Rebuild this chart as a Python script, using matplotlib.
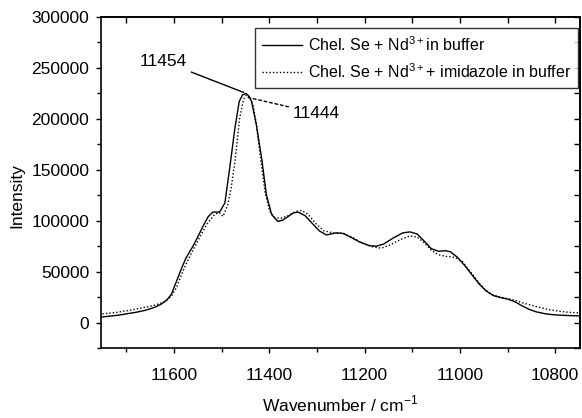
import matplotlib
matplotlib.use('Agg')
import matplotlib.pyplot as plt
from matplotlib.ticker import MultipleLocator

plt.rcParams['font.family'] = ['Liberation Sans', 'DejaVu Sans']
plt.rcParams['mathtext.fontset'] = 'custom'
plt.rcParams['mathtext.rm'] = 'Liberation Sans'
plt.rcParams['font.size'] = 12.5

# Solid curve: Chel. Se + Nd3+ in buffer
wn_buf = [11750, 11720, 11700, 11680, 11660, 11640, 11625, 11615, 11605, 11595,
          11585, 11575, 11560, 11550, 11539, 11528, 11518, 11504, 11493, 11483,
          11472, 11463, 11456, 11449, 11443, 11437, 11427, 11416, 11406, 11395,
          11382, 11372, 11360, 11350, 11340, 11325, 11310, 11295,
          11280, 11260, 11245, 11230, 11210, 11190, 11175, 11160, 11140, 11120,
          11105, 11090, 11075, 11060, 11045, 11030, 11020, 11005, 10990, 10975,
          10960, 10945, 10930, 10915, 10900, 10885, 10870, 10855, 10840, 10820,
          10800, 10780, 10750]
int_buf = [5500, 7000, 8500, 10000, 12000, 15000, 18500, 22000, 28000, 40000,
           52000, 63000, 75000, 84000, 94500, 104000, 108500, 108500, 117500, 151500,
           191000, 217000, 223500, 225000, 222500, 217000, 194000, 161500, 125500, 106000,
           99300, 100500, 104200, 107500, 108500, 105000, 97500, 90000,
           86000, 88000, 87500, 84000, 79000, 75500, 75000, 77000, 83000, 88000,
           89000, 87000, 80000, 72500, 70000, 70500, 69500, 64000, 56000, 47000,
           38000, 31000, 26500, 24500, 23000, 20500, 16500, 13000, 10500, 8500,
           7500, 7000, 6500]

# Dotted curve: Chel. Se + Nd3+ + imidazole in buffer
wn_imi = [11750, 11720, 11700, 11680, 11660, 11640, 11625, 11615, 11605, 11595,
          11585, 11575, 11560, 11545, 11530, 11515, 11505, 11497, 11487, 11480,
          11472, 11462, 11454, 11448, 11441, 11434, 11427, 11420, 11409, 11399,
          11388, 11375, 11360, 11345, 11332, 11318, 11300, 11285,
          11265, 11245, 11225, 11205, 11185, 11165, 11145, 11125, 11105, 11090,
          11075, 11060, 11045, 11030, 11010, 10995, 10980, 10965, 10950, 10935,
          10920, 10900, 10885, 10870, 10850, 10830, 10810, 10790, 10770, 10750]
int_imi = [8500, 10000, 11500, 13000, 15000, 17000, 19500, 22000, 26000, 34000,
           46000, 57000, 71000, 84500, 97000, 106000, 108000, 104200, 115600, 132000,
           158000, 200500, 219000, 223400, 221000, 213600, 195000, 168000, 128700, 109100,
           103000, 102500, 105000, 109000, 110000, 106000, 96000, 90000,
           88000, 87500, 83500, 78000, 74500, 73000, 76500, 81500, 85000, 84000,
           78500, 71000, 66500, 65000, 64000, 60000, 51000, 42000, 33500, 28000,
           25500, 23500, 22000, 19500, 17000, 14500, 12500, 11000, 10000, 9500]

fig = plt.figure(figsize=(5.82, 4.18), dpi=100)
ax = fig.add_axes([0.1735, 0.1675, 0.8231, 0.7918])

ax.plot(wn_buf, int_buf, color='black', lw=1.0,
        label='Chel. Se + Nd$^{3+}$in buffer')
ax.plot(wn_imi, int_imi, color='black', lw=1.0, linestyle=(0, (1, 1.5)),
        label='Chel. Se + Nd$^{3+}$+ imidazole in buffer')

ax.set_xlim(11753, 10748)
ax.set_ylim(-25000, 300000)
ax.xaxis.set_major_locator(MultipleLocator(200))
ax.xaxis.set_minor_locator(MultipleLocator(100))
ax.yaxis.set_major_locator(MultipleLocator(50000))
ax.yaxis.set_minor_locator(MultipleLocator(25000))
ax.tick_params(which='both', direction='out', top=False, right=False,
               width=1.0, labelsize=12.5)
ax.tick_params(which='major', length=3.5)
ax.tick_params(which='minor', length=3)
ax.tick_params(axis='y', which='major', pad=5)
ax.tick_params(axis='x', which='major', pad=11)

# inward ticks on top and right
top = ax.secondary_xaxis('top')
top.xaxis.set_major_locator(MultipleLocator(100))
top.tick_params(direction='in', length=4, width=1.0, labeltop=False)
right = ax.secondary_yaxis('right')
right.yaxis.set_major_locator(MultipleLocator(25000))
right.tick_params(direction='in', length=4, width=1.0, labelright=False)

for a in (ax, top, right):
    for s in a.spines.values():
        s.set_linewidth(1.2)

ax.set_xlabel('Wavenumber / cm$^{-1}$', fontsize=12.5, labelpad=8)
ax.set_ylabel('Intensity', fontsize=12.5)
ax.yaxis.set_label_coords(-0.159, 0.46)

ax.annotate('11454', xy=(11454, 226000), xytext=(11572, 256500),
            ha='right', va='center', fontsize=12.5,
            arrowprops=dict(arrowstyle='-', color='black', lw=1.0,
                            shrinkA=1, shrinkB=0))
ax.annotate('11444', xy=(11444, 221000), xytext=(11351, 205500),
            ha='left', va='center', fontsize=12.5,
            arrowprops=dict(arrowstyle='-', color='black', lw=1.0,
                            linestyle=(0, (2, 2)), shrinkA=1, shrinkB=0))

leg = ax.legend(loc='upper right', bbox_to_anchor=(0.996, 0.967),
                fontsize=11.5, frameon=True, fancybox=False, handlelength=2.5,
                handletextpad=0.35, borderpad=0.45, labelspacing=0.5,
                borderaxespad=0)
leg.get_frame().set_edgecolor('black')
leg.get_frame().set_linewidth(1.0)

fig.savefig('out.png', dpi=100)
